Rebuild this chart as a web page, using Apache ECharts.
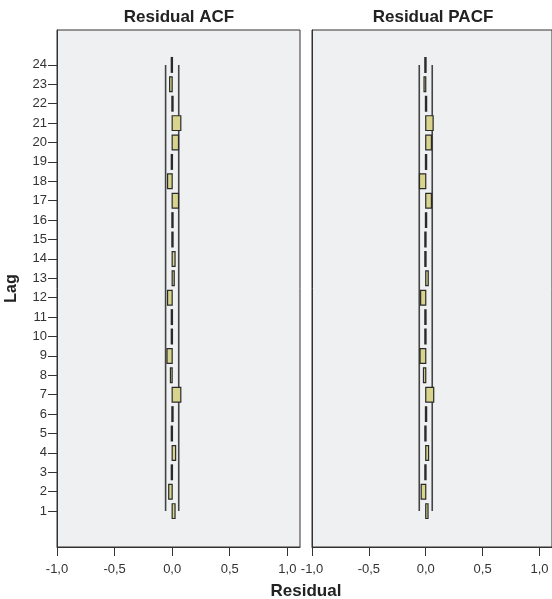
<!DOCTYPE html>
<html>
<head>
<meta charset="utf-8">
<script src="https://cdn.jsdelivr.net/npm/echarts@6/dist/echarts.min.js"></script>
<style>
html,body{margin:0;padding:0;background:#fff;}
#c{width:552px;height:599px;}
</style>
</head>
<body>
<div id="c"></div>
<script>
const lags = [1,2,3,4,5,6,7,8,9,10,11,12,13,14,15,16,17,18,19,20,21,22,23,24];
const acfValues = [0.025,-0.03,-0.005,0.03,-0.005,0.005,0.075,-0.015,-0.045,-0.005,-0.005,-0.04,0.018,0.025,0.008,0.005,0.055,-0.04,-0.003,0.055,0.075,0.002,-0.022,-0.003];
const pacfValues = [0.02,-0.04,-0.003,0.025,-0.003,0.002,0.07,-0.02,-0.05,-0.005,-0.01,-0.045,0.022,-0.003,-0.003,0.002,0.05,-0.055,0.002,0.05,0.065,0.002,-0.015,-0.005];
const confLimit = 0.057;
const xTicks = [-1, -0.5, 0, 0.5, 1];
const xTickLabels = ['-1,0','-0,5','0,0','0,5','1,0'];
const panelTitles = ['Residual ACF','Residual PACF'];
const xName = 'Residual';
const yName = 'Lag';

const chart = echarts.init(document.getElementById('c'), null, {renderer:'canvas'});
const FONT = 'Liberation Sans, Arial, sans-serif';
const BAR_HALF = 0.38;

function renderBar(params, api){
  const v = api.value(0), lag = api.value(1);
  const p0 = api.coord([0, lag + BAR_HALF]);
  const p1 = api.coord([v, lag - BAR_HALF]);
  let x = Math.min(p0[0], p1[0]);
  let w = Math.abs(p1[0]-p0[0]);
  if (w < 1.2) { x = p0[0] - 0.6 + (v < 0 ? -0.3 : 0.3); w = 1.2; }
  return {type:'rect', shape:{x:x, y:p0[1], width:w, height:p1[1]-p0[1]},
    style:{fill:'#d8d48e', stroke:'#2a2a2a', lineWidth:1.2}};
}

function xAxisDef(i){
  return {type:'value', gridIndex:i, min:-1, max:1.11,
    axisLine:{show:true, onZero:false, lineStyle:{color:'#333', width:1}},
    axisTick:{show:true, length:9, customValues:xTicks, lineStyle:{color:'#333'}},
    axisLabel:{show:true, customValues:xTicks, margin:16, color:'#333', fontSize:13, fontFamily:FONT,
      formatter:function(v){ const k = xTicks.findIndex(t=>Math.abs(t-v)<1e-9); return k>=0?xTickLabels[k]:''; }},
    splitLine:{show:false}};
}
function yAxisDef(i){
  return {type:'value', gridIndex:i, min:-0.85, max:25.8,
    name: i===0 ? yName : '', nameLocation:'middle', nameGap:37,
    nameTextStyle:{fontWeight:'bold', fontSize:16, color:'#222', fontFamily:FONT},
    axisLine:{show:true, onZero:false, lineStyle:{color:'#333', width:1}},
    axisTick:{show:i===0, length:9, customValues:lags, lineStyle:{color:'#333'}},
    axisLabel:{show:i===0, customValues:lags, margin:10, color:'#333', fontSize:13, fontFamily:FONT},
    splitLine:{show:false}};
}

const series = [];
[acfValues, pacfValues].forEach((vals, i) => {
  series.push({type:'custom', xAxisIndex:i, yAxisIndex:i, renderItem:renderBar,
    encode:{x:0, y:1}, data: lags.map((l,k)=>[vals[k], l]), z:3});
  [confLimit, -confLimit].forEach(lim => {
    series.push({type:'line', xAxisIndex:i, yAxisIndex:i, symbol:'none', silent:true,
      lineStyle:{color:'#444', width:1.6}, data:[[lim, lags[0]],[lim, lags[lags.length-1]]], z:2});
  });
});

chart.setOption({
  animation:false,
  backgroundColor:'#ffffff',
  grid:[
    {left:57, top:30, width:243, height:517, show:true, backgroundColor:'#eff0f2', borderColor:'#333', borderWidth:1},
    {left:312, top:30, width:243, height:517, show:true, backgroundColor:'#eff0f2', borderColor:'#333', borderWidth:1}
  ],
  xAxis:[xAxisDef(0), xAxisDef(1)],
  yAxis:[yAxisDef(0), yAxisDef(1)],
  graphic:[
    {type:'text', x:179, y:17, style:{text:panelTitles[0], fill:'#222', font:'bold 17px '+FONT, align:'center', verticalAlign:'middle'}},
    {type:'text', x:433, y:17, style:{text:panelTitles[1], fill:'#222', font:'bold 17px '+FONT, align:'center', verticalAlign:'middle'}},
    {type:'text', x:306, y:591, style:{text:xName, fill:'#222', font:'bold 17px '+FONT, align:'center', verticalAlign:'middle'}}
  ],
  series:series
});
</script>
</body>
</html>
